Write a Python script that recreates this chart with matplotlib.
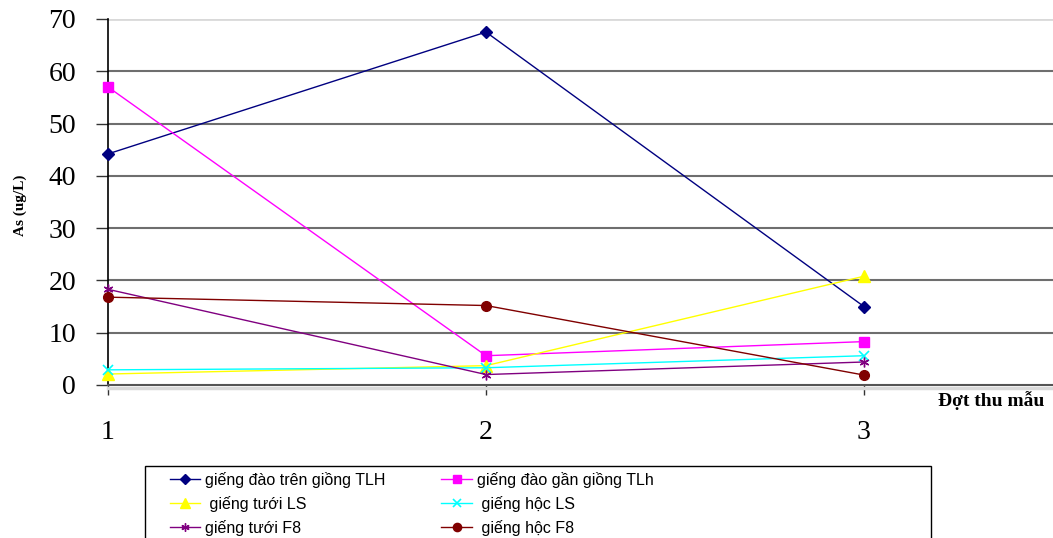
import matplotlib
matplotlib.use("Agg")
import matplotlib.pyplot as plt
from matplotlib.transforms import offset_copy
from matplotlib.lines import Line2D
from matplotlib.patches import Rectangle

# Sampling rounds (đợt thu mẫu)
rounds = [1, 2, 3]
tick_labels = ["1", "2", "3"]

# Arsenic concentrations, ug/L
dao_tren_giong_TLH = [44.2, 67.5, 15.0]
dao_gan_giong_TLh = [57.0, 5.6, 8.3]
tuoi_LS = [2.1, 3.7, 20.8]
hoc_LS = [2.9, 3.3, 5.6]
tuoi_F8 = [18.3, 2.0, 4.4]
hoc_F8 = [16.8, 15.2, 1.9]

series_names = [
    "giếng đào trên giồng TLH",
    "giếng đào gần giồng TLh",
    " giếng tưới LS",
    " giếng hộc LS",
    "giếng tưới F8",
    " giếng hộc F8",
]

y_ticks = [0, 10, 20, 30, 40, 50, 60, 70]

fig = plt.figure(figsize=(10.53, 5.38), dpi=100)
ax = fig.add_axes([108 / 1053, 1 - 385 / 538, 945 / 1053, 366 / 538])

styles = [
    dict(color="#000080", marker="D", ms=6),
    dict(color="#FF00FF", marker="s", ms=7),
    dict(color="#FFFF00", marker="^", ms=8),
    dict(color="#00FFFF", marker="x", ms=7, mew=1.2),
    dict(color="#800080", marker=(6, 2, 0), ms=7, mew=1.0),
    dict(color="#800000", marker="o", ms=7),
]
data = [dao_tren_giong_TLH, dao_gan_giong_TLh, tuoi_LS, hoc_LS, tuoi_F8, hoc_F8]

handles = []
for vals, name, st in zip(data, series_names, styles):
    (h,) = ax.plot(rounds, vals, lw=1.0, label=name, zorder=3, clip_on=False, **st)
    handles.append(h)

ax.set_xlim(1, 3.5)
ax.set_ylim(0, 70)
ax.set_yticks(y_ticks)
ax.set_xticks(rounds)
ax.set_xticklabels(tick_labels)

# horizontal grid
for v in y_ticks[1:-1]:
    ax.axhline(v, color="#6e6e6e", lw=1.5, zorder=1)
ax.axhline(70, color="#d9d9d9", lw=2, zorder=1)

for s in ["top", "right"]:
    ax.spines[s].set_visible(False)
ax.spines["left"].set_color("black")
ax.spines["left"].set_linewidth(1.2)
ax.spines["bottom"].set_color("#555555")
ax.spines["bottom"].set_linewidth(1.5)

# light shadow under the category axis
shadow = Line2D([0, 1], [0, 0], transform=offset_copy(ax.transAxes, fig=fig, y=-3, units="dots"),
                color="#d9d9d9", lw=2.5, clip_on=False)
ax.add_line(shadow)

serif = "Liberation Serif"
ax.tick_params(axis="y", direction="out", length=9, width=1.0, pad=14,
               labelsize=20, color="#333333")
ax.tick_params(axis="x", direction="out", length=7, width=1.0, pad=18,
               labelsize=20, color="#333333")
for lab in ax.get_xticklabels() + ax.get_yticklabels():
    lab.set_fontfamily(serif)

fig.text(20 / 1053, 1 - 205 / 538, "As (ug/L)", rotation=90, ha="center", va="center",
         fontsize=11, fontweight="bold", family=serif)
fig.text(991 / 1053, 1 - 401 / 538, "Đợt thu mẫu", ha="center", va="center",
         fontsize=14, fontweight="bold", family=serif)

# legend laid out row by row (matplotlib fills columns first)
order = [0, 2, 4, 1, 3, 5]
leg = fig.legend(handles=[handles[i] for i in order], loc="upper left", ncol=2,
                 bbox_to_anchor=(170 / 1053, 1 - 472 / 538),
                 prop={"family": "Liberation Sans", "size": 11.5},
                 frameon=False, handlelength=1.9, handletextpad=0.3,
                 labelspacing=0.5, columnspacing=3.5,
                 borderpad=0.0, borderaxespad=0, markerscale=0.85)
fig.add_artist(Rectangle((145 / 1053, -0.05), (931 - 145) / 1053, 0.05 + 1 - 466 / 538,
                         transform=fig.transFigure, fill=False, edgecolor="black",
                         lw=1.0, clip_on=False))

fig.savefig("out.png", dpi=100)
